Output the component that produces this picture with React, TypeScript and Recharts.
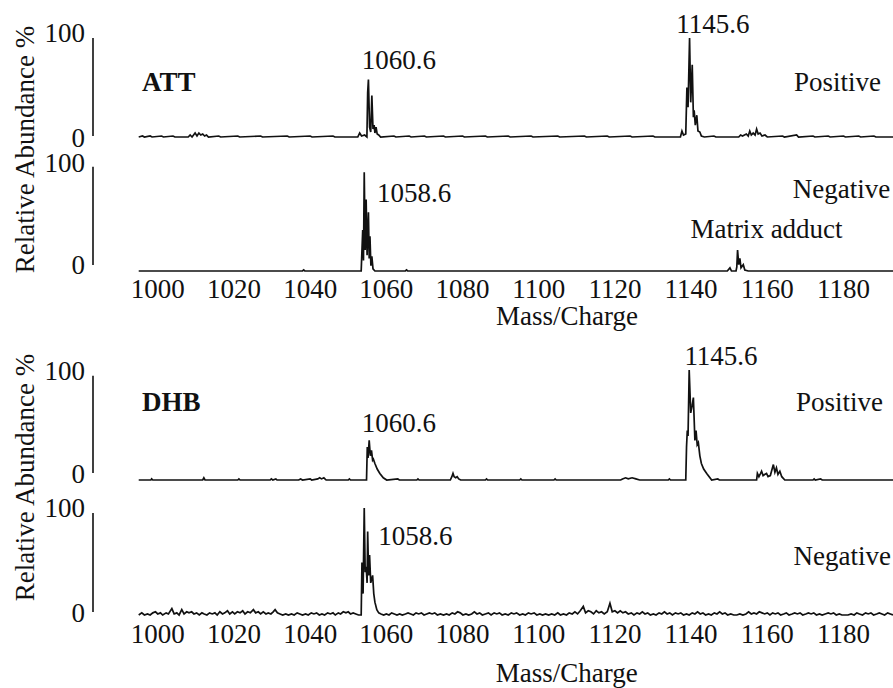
import React from 'react';
import { LineChart, Line, XAxis, YAxis } from 'recharts';

const FONT = "'Liberation Serif', 'Times New Roman', serif";
const INK = '#111';

const X_TICKS = [1000, 1020, 1040, 1060, 1080, 1100, 1120, 1140, 1160, 1180];
const Y_TICKS = [0, 100];
const MZ_DOMAIN: [number, number] = [983, 1193];

type Pt = [number, number];

// ATT matrix, positive ion mode: [m/z, relative abundance %]
const attPositive: Pt[] = [
  [995, 0], [996, 1], [996.5, 0], [998, 1], [998.5, 0], [1001, 1], [1001.5, 0], [1004, 1], [1004.5, 0],
  [1008, 0], [1008.5, 2], [1009, 0], [1009.8, 4], [1010.3, 1], [1010.8, 4], [1011.3, 2], [1011.8, 3], [1012.3, 1],
  [1012.8, 2], [1013.3, 0], [1016, 1], [1016.5, 0], [1021, 1], [1021.5, 0], [1027, 1], [1027.5, 0],
  [1034, 1], [1034.5, 0], [1040, 1], [1040.5, 0], [1046, 1], [1046.5, 0], [1052.5, 0], [1053, 4], [1053.5, 1],
  [1054.3, 2], [1054.9, 0], [1055.1, 45], [1055.3, 58], [1055.6, 10], [1055.9, 5], [1056.2, 42], [1056.5, 8],
  [1056.8, 12], [1057.0, 4], [1057.3, 10], [1057.6, 3], [1058.0, 2], [1058.5, 0],
  [1062, 1], [1062.5, 0], [1066, 1], [1066.5, 0], [1070, 1], [1070.5, 0], [1075, 1], [1075.5, 0], [1080, 1],
  [1080.5, 0], [1086, 1], [1086.5, 0], [1092, 1], [1092.5, 0], [1098, 1], [1098.5, 0], [1105, 1], [1105.5, 0],
  [1112, 1], [1112.5, 0], [1118, 1], [1118.5, 0], [1124, 1], [1124.5, 0], [1130, 1], [1130.5, 0],
  [1137.2, 0], [1137.6, 6], [1138.0, 2], [1138.6, 3], [1138.9, 50], [1139.2, 30], [1139.6, 100], [1139.9, 35],
  [1140.3, 73], [1140.6, 20], [1140.8, 27], [1141.1, 12], [1141.5, 22], [1141.8, 6], [1142.3, 5], [1142.7, 1],
  [1143.5, 0], [1146, 1], [1146.5, 0], [1152.5, 0], [1153, 2], [1153.5, 1], [1154.5, 3], [1155, 1], [1155.4, 6],
  [1155.8, 2], [1156.3, 4], [1156.8, 2], [1157.2, 8], [1157.6, 3], [1158.1, 4], [1158.6, 1], [1159.4, 2],
  [1160, 0], [1164, 1], [1164.5, 0], [1167.7, 2], [1168.2, 0], [1172, 1], [1172.5, 0], [1176, 1], [1176.5, 0],
  [1180, 1], [1180.5, 0], [1184, 1], [1184.5, 0], [1188, 1], [1188.5, 0], [1193, 0],
];

// ATT matrix, negative ion mode
const attNegative: Pt[] = [
  [995, 0], [1038, 0], [1038.3, 1], [1038.6, 0], [1053.4, 0], [1053.8, 39], [1054.0, 10], [1054.2, 94],
  [1054.45, 20], [1054.7, 68], [1054.95, 15], [1055.3, 56], [1055.5, 12], [1055.7, 33], [1055.95, 5],
  [1056.2, 14], [1056.5, 2], [1057, 0], [1065, 0], [1065.3, 1], [1065.6, 0], [1149.5, 0], [1150.2, 3],
  [1150.6, 0], [1151.8, 0], [1152.0, 4], [1152.2, 20], [1152.5, 6], [1152.8, 12], [1153.1, 3], [1153.7, 6],
  [1154.1, 1], [1155, 0], [1193, 0],
];

// DHB matrix, positive ion mode
const dhbPositive: Pt[] = [
  [995, 0], [998.2, 0], [998.4, 1], [998.7, 0], [1011.8, 0], [1012.1, 2], [1012.4, 0], [1021, 0], [1021.3, 1],
  [1021.6, 0], [1029.5, 0], [1029.8, 1], [1030.2, 0], [1031, 1], [1031.3, 0], [1037, 0], [1037.5, 1], [1038, 0],
  [1040, 1], [1040.4, 0], [1042, 1], [1042.5, 2], [1043, 1], [1043.6, 2], [1044.2, 0], [1050, 0], [1050.3, 1],
  [1050.6, 0], [1054.8, 0], [1055.0, 30], [1055.2, 20], [1055.5, 36], [1055.8, 22], [1056.1, 27], [1056.4, 18],
  [1056.6, 19], [1057.0, 15], [1057.6, 10], [1058.3, 6], [1059.2, 2], [1060.1, 0], [1063, 1], [1063.4, 0],
  [1068, 0], [1068.3, 1], [1068.6, 0], [1076.8, 0], [1077.2, 3], [1077.5, 6], [1077.8, 3], [1078.2, 2],
  [1078.6, 3], [1079, 1], [1079.5, 0], [1086, 0], [1086.3, 1], [1086.6, 0], [1095, 0], [1095.3, 1], [1095.6, 0],
  [1104, 0], [1104.3, 1], [1104.6, 0], [1121.5, 0], [1122, 1], [1122.8, 2], [1123.5, 1], [1124.5, 2],
  [1125.5, 1], [1126.5, 0], [1134, 0], [1134.3, 1], [1134.6, 0], [1138.6, 0], [1138.8, 30], [1139.0, 45],
  [1139.2, 40], [1139.5, 100], [1139.9, 61], [1140.3, 68], [1140.6, 75], [1141.0, 36], [1141.3, 45],
  [1141.6, 32], [1141.9, 34], [1142.3, 22], [1142.7, 15], [1143.3, 10], [1144.1, 6], [1145.4, 0], [1147, 1],
  [1147.4, 0], [1157.2, 0], [1157.4, 6], [1157.8, 3], [1158.1, 5], [1158.5, 8], [1158.9, 4], [1159.3, 5],
  [1159.8, 6], [1160.2, 3], [1160.8, 4], [1161.2, 9], [1161.6, 14], [1162.0, 7], [1162.4, 11], [1162.8, 5],
  [1163.3, 8], [1163.8, 3], [1164.6, 0], [1172, 0], [1172.3, 1], [1172.6, 0], [1174, 1], [1174.4, 0], [1193, 0],
];

// DHB matrix, negative ion mode
const dhbNegative: Pt[] = [
  [995, 0], [995.8, 2], [996.5, 0], [997.3, 1], [998, 0], [998.7, 2], [999.4, 3], [1000, 1], [1000.7, 2],
  [1001.3, 0], [1002.2, 2], [1002.8, 1], [1003.7, 6], [1004.3, 1], [1005, 2], [1005.6, 0], [1006.3, 5],
  [1006.9, 1], [1007.6, 3], [1008.2, 2], [1008.9, 3], [1009.5, 1], [1010.2, 2], [1010.9, 0], [1011.6, 2],
  [1012.2, 1], [1012.9, 0], [1013.6, 2], [1014.3, 1], [1015, 2], [1015.6, 0], [1016.3, 3], [1017, 1],
  [1017.6, 2], [1018.3, 4], [1018.9, 1], [1019.6, 3], [1020.2, 1], [1020.9, 3], [1021.6, 2], [1022.3, 4],
  [1022.9, 1], [1023.6, 3], [1024.3, 2], [1025.1, 5], [1025.7, 2], [1026.4, 3], [1027, 1], [1027.7, 3],
  [1028.4, 1], [1029, 2], [1029.7, 1], [1030.3, 3], [1030.8, 5], [1031.4, 2], [1032.1, 1], [1032.8, 0],
  [1033.6, 1], [1034.3, 0], [1035.1, 1], [1035.8, 0], [1036.6, 2], [1037.3, 1], [1038, 0], [1038.8, 1],
  [1039.5, 0], [1040.3, 2], [1041, 1], [1041.7, 2], [1042.4, 0], [1043.1, 1], [1043.8, 0], [1044.6, 2],
  [1045.3, 1], [1046, 2], [1046.6, 0], [1047.4, 2], [1048, 1], [1048.7, 3], [1049.4, 2], [1050, 3],
  [1050.6, 1], [1051.3, 2], [1052, 1], [1052.7, 0], [1053.4, 0],
  [1053.6, 49], [1053.9, 20], [1054.2, 100], [1054.45, 40], [1054.7, 45], [1054.95, 30], [1055.1, 78],
  [1055.35, 37], [1055.6, 56], [1055.9, 30], [1056.4, 37], [1056.7, 20], [1057.0, 12], [1057.5, 5],
  [1058.0, 2], [1058.6, 1],
  [1059.3, 0], [1060, 1], [1060.7, 0], [1061.4, 2], [1062.1, 1], [1062.8, 0], [1063.5, 1], [1064.2, 0],
  [1065, 1], [1065.7, 2], [1066.4, 1], [1067.1, 0], [1067.8, 2], [1068.5, 1], [1069.2, 2], [1069.9, 0],
  [1070.6, 1], [1071.3, 2], [1072, 1], [1072.7, 2], [1073.4, 0], [1074.2, 1], [1075, 0], [1075.8, 1],
  [1076.5, 0], [1077.3, 2], [1078, 1], [1078.7, 3], [1079.4, 2], [1080.1, 0], [1080.9, 1], [1081.6, 0],
  [1082.4, 1], [1083.1, 3], [1083.8, 1], [1084.5, 2], [1085.2, 0], [1086, 1], [1086.8, 2], [1087.5, 0],
  [1088.3, 2], [1089, 1], [1089.7, 2], [1090.4, 0], [1091.2, 1], [1092, 0], [1092.8, 2], [1093.5, 1],
  [1094.2, 2], [1095, 0], [1095.8, 1], [1096.5, 0], [1097.3, 2], [1098, 1], [1098.8, 2], [1099.5, 0],
  [1100.3, 1], [1101, 0], [1101.8, 1], [1102.6, 0], [1103.4, 1], [1104.2, 0], [1105, 2], [1105.7, 0],
  [1106.5, 1], [1107.3, 0], [1108, 2], [1108.8, 1], [1109.5, 3], [1110.2, 1], [1110.9, 4], [1111.7, 8],
  [1112.3, 2], [1113, 4], [1113.7, 3], [1114.4, 1], [1115.1, 4], [1115.8, 2], [1116.5, 3], [1117.2, 1],
  [1118, 3], [1118.7, 11], [1119.3, 3], [1120, 4], [1120.7, 2], [1121.4, 4], [1122.1, 2], [1122.8, 3],
  [1123.5, 1], [1124.3, 2], [1125, 0], [1125.8, 2], [1126.5, 1], [1127.2, 3], [1127.9, 1], [1128.6, 2],
  [1129.3, 0], [1130.1, 1], [1130.8, 0], [1131.6, 2], [1132.3, 1], [1133, 3], [1133.7, 1], [1134.4, 2],
  [1135.1, 0], [1135.9, 2], [1136.6, 1], [1137.3, 2], [1138, 0], [1138.8, 1], [1139.5, 0], [1140.3, 2],
  [1141, 1], [1141.7, 3], [1142.4, 1], [1143.1, 2], [1143.8, 0], [1144.6, 1], [1145.3, 0], [1146.1, 2],
  [1146.8, 1], [1147.5, 3], [1148.2, 1], [1148.9, 2], [1149.6, 0], [1150.4, 1], [1151.2, 0], [1152, 0],
  [1152.8, 1], [1153.6, 0], [1154.4, 1], [1155.1, 3], [1155.8, 1], [1156.5, 2], [1157.2, 1], [1157.9, 3],
  [1158.6, 2], [1159.3, 1], [1160, 2], [1160.7, 0], [1161.4, 2], [1162.1, 1], [1162.8, 2], [1163.5, 0],
  [1164.3, 1], [1165, 2], [1165.7, 0], [1166.5, 1], [1167.2, 2], [1167.9, 1], [1168.6, 2], [1169.3, 0],
  [1170.1, 1], [1170.8, 2], [1171.5, 1], [1172.2, 2], [1172.9, 0], [1173.7, 1], [1174.4, 0], [1175.2, 1],
  [1176, 2], [1176.7, 1], [1177.4, 2], [1178.1, 0], [1178.9, 1], [1179.6, 0], [1181.2, 0], [1182, 1],
  [1182.8, 0], [1183.5, 2], [1184.2, 1], [1185, 0], [1185.8, 2], [1186.5, 1], [1187.2, 2], [1187.9, 0],
  [1188.7, 1], [1189.4, 2], [1190.1, 1], [1190.8, 0], [1191.6, 2], [1192.3, 1], [1193, 0],
];

const toRows = (pts: Pt[]) => pts.map(([mz, abundance]) => ({ mz, abundance }));

type PanelProps = {
  points: Pt[];
  topY: number;
  baseY: number;
  axisTop: number;
  axisBottom: number;
  zeroLabelShift: number;
  hundredLabelShift: number;
  showX: boolean;
  xTickMargin?: number;
};

function Panel(props: PanelProps) {
  const { points, topY, baseY, axisTop, axisBottom, zeroLabelShift, hundredLabelShift, showX, xTickMargin } = props;
  const padTop = 24;
  const padBottom = 16;
  const plotH = baseY - topY;
  const xH = showX ? 42 : 0;
  const height = padTop + plotH + xH + padBottom;
  const dash = `0 ${axisTop - topY} ${axisBottom - axisTop} 4000`;
  const rows = toRows(points);

  const renderYTick = (p: any) => {
    const shift = p.payload.value === 100 ? hundredLabelShift : zeroLabelShift;
    return (
      <text x={p.x} y={p.y + shift} dy="0.355em" textAnchor="end" fontFamily={FONT} fontSize={27} fill={INK}>
        {p.payload.value}
      </text>
    );
  };

  return (
    <div style={{ position: 'absolute', left: 0, top: topY - padTop }}>
      <LineChart width={893} height={height} data={rows} margin={{ top: padTop, right: 0, bottom: padBottom, left: 0 }}>
        <XAxis
          dataKey="mz"
          type="number"
          domain={MZ_DOMAIN}
          ticks={X_TICKS}
          interval={0}
          hide={!showX}
          height={42}
          axisLine={false}
          tickLine={false}
          tickSize={0}
          tickMargin={xTickMargin ?? 8}
          tick={{ fontFamily: FONT, fontSize: 27, fill: INK }}
        />
        <YAxis
          type="number"
          domain={[0, 100]}
          ticks={Y_TICKS}
          interval={0}
          width={93}
          tickLine={false}
          tickSize={6}
          tickMargin={2}
          axisLine={{ stroke: INK, strokeWidth: 1.6, strokeDasharray: dash }}
          tick={renderYTick}
        />
        <Line dataKey="abundance" type="linear" stroke={INK} strokeWidth={1.7} dot={false} activeDot={false} isAnimationActive={false} />
      </LineChart>
    </div>
  );
}

const T = (props: any) => {
  const { children, ...rest } = props;
  return (
    <text fontFamily={FONT} fontSize={27} fill={INK} {...rest}>
      {children}
    </text>
  );
};

export default function App() {
  return (
    <div style={{ position: 'absolute', left: 0, top: 0, width: 893, height: 688, background: '#fff', overflow: 'hidden' }}>
      <Panel points={attPositive} topY={38} baseY={137} axisTop={38} axisBottom={136}
        zeroLabelShift={0} hundredLabelShift={-6} showX={false} />
      <Panel points={attNegative} topY={166} baseY={271} axisTop={166.7} axisBottom={265}
        zeroLabelShift={-6.5} hundredLabelShift={-4} showX={true} xTickMargin={7.8} />
      <Panel points={dhbPositive} topY={370} baseY={480} axisTop={375.7} axisBottom={473}
        zeroLabelShift={-6.5} hundredLabelShift={0} showX={false} />
      <Panel points={dhbNegative} topY={508} baseY={615} axisTop={513} axisBottom={612}
        zeroLabelShift={-3} hundredLabelShift={-1} showX={true} xTickMargin={8.8} />

      <svg width={893} height={688} style={{ position: 'absolute', left: 0, top: 0, pointerEvents: 'none' }}>
        <T transform="translate(34,149.5) rotate(-90)" textAnchor="middle">Relative Abundance %</T>
        <T transform="translate(34,477.5) rotate(-90)" textAnchor="middle">Relative Abundance %</T>

        <T x={142} y={91} fontWeight="bold">ATT</T>
        <T x={398.8} y={69} textAnchor="middle">1060.6</T>
        <T x={712.8} y={33} textAnchor="middle">1145.6</T>
        <T x={837.5} y={90.7} textAnchor="middle">Positive</T>

        <T x={414.2} y={202} textAnchor="middle">1058.6</T>
        <T x={841.5} y={198} textAnchor="middle">Negative</T>
        <T x={766.5} y={238} textAnchor="middle">Matrix adduct</T>
        <T x={567} y={324.5} textAnchor="middle">Mass/Charge</T>

        <T x={142} y={411} fontWeight="bold">DHB</T>
        <T x={398.8} y={432} textAnchor="middle">1060.6</T>
        <T x={721} y={365} textAnchor="middle">1145.6</T>
        <T x={839.5} y={411} textAnchor="middle">Positive</T>

        <T x={415.3} y={545} textAnchor="middle">1058.6</T>
        <T x={842.3} y={565} textAnchor="middle">Negative</T>
        <T x={566.7} y={681.5} textAnchor="middle">Mass/Charge</T>
      </svg>
    </div>
  );
}
